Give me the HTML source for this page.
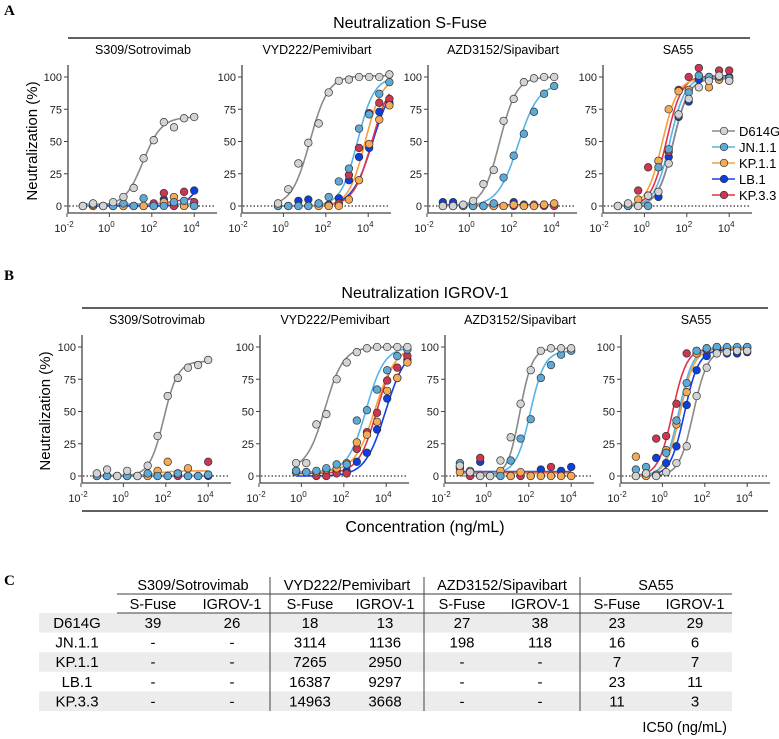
<!DOCTYPE html>
<html><head><meta charset="utf-8"><style>
html,body{margin:0;padding:0;background:#fff}
svg{display:block;font-family:"Liberation Sans",Arial,sans-serif}
.tbl{font-family:"Liberation Sans Narrow","Liberation Sans",sans-serif}
</style></head><body>
<svg id="fig" width="779" height="739" viewBox="0 0 779 739" xmlns="http://www.w3.org/2000/svg">
<text x="4" y="15" font-family="Liberation Serif,serif" font-weight="bold" font-size="15">A</text>
<text x="4" y="280" font-family="Liberation Serif,serif" font-weight="bold" font-size="15">B</text>
<text x="4" y="585" font-family="Liberation Serif,serif" font-weight="bold" font-size="15">C</text>
<text x="410" y="28" font-size="16" text-anchor="middle">Neutralization S-Fuse</text>
<line x1="68" y1="38" x2="750" y2="38" stroke="#000" stroke-width="1.2"/>
<text x="425" y="298" font-size="16" text-anchor="middle">Neutralization IGROV-1</text>
<line x1="82" y1="308" x2="768" y2="308" stroke="#000" stroke-width="1.2"/>
<line x1="82" y1="511" x2="768" y2="511" stroke="#000" stroke-width="1.2"/>
<text x="425" y="532" font-size="16" text-anchor="middle">Concentration (ng/mL)</text>
<text transform="translate(37,141) rotate(-90)" font-size="15" text-anchor="middle">Neutralization (%)</text>
<text transform="translate(50,411) rotate(-90)" font-size="15" text-anchor="middle">Neutralization (%)</text>
<g id="plots"></g>
<g id="legend"></g>
<g id="table" class="tbl"></g>
</svg>
<script>
const variants = ["D614G","JN.1.1","KP.1.1","LB.1","KP.3.3"];
const concLow = [0.056,0.17,0.51,1.5,4.6,14,41,123,370,1111,3333,10000];
const concHigh = [0.56,1.7,5.1,15,46,137,412,1235,3704,11111,33333,100000];
const subtitles = ["S309/Sotrovimab","VYD222/Pemivibart","AZD3152/Sipavibart","SA55"];
// values per plot: [D614G, JN.1.1, KP.1.1, LB.1, KP.3.3]
const a1 = [[0,2,0,3,7,14,37,51,65,61,68,69],[0,1,0,0,2,0,6,0,0,3,4,0],[0,0,0,0,0,0,0,0,3,7,0,0],[0,0,0,0,0,0,0,0,5,0,0,12],[0,0,0,0,0,0,0,2,10,0,11,3]];
const a2 = [[2,13,33,49,64,88,97,98,100,100,100,102],[0,0,0,0,2,7,19,29,60,71,87,96],[0,0,0,0,0,0,0,5,20,48,67,78],[0,0,4,5,2,1,6,20,38,45,73,80],[0,0,0,0,0,0,2,24,45,72,80,83]];
const a3 = [[0,0,1,4,17,28,66,83,96,99,100,100],[0,0,0,0,0,2,22,39,56,73,87,93],[0,0,0,0,0,0,0,1,0,0,1,2],[3,3,0,0,0,0,0,3,1,0,1,1],[0,0,0,0,0,0,0,0,0,1,0,0]];
const a4 = [[0,2,0,8,11,33,71,83,92,97,101,97],[0,0,0,0,30,44,70,88,101,100,100,99],[0,0,5,8,35,75,89,90,101,92,98,97],[0,0,0,0,7,38,69,81,98,100,98,100],[0,0,12,30,35,42,90,100,107,100,105,105]];
const b1 = [[2,5,0,4,0,8,31,62,76,84,86,90],[0,0,0,0,0,2,0,0,2,0,0,1],[0,0,0,0,0,0,4,11,2,6,0,1],[0,0,0,0,0,0,0,0,0,0,0,0],[0,0,0,0,0,0,0,0,0,0,0,11]];
const b2 = [[10,10,40,48,75,88,96,99,100,100,100,100],[4,3,4,6,9,9,43,51,67,82,93,98],[3,3,3,5,6,10,26,32,42,66,76,88],[3,3,0,0,4,4,11,18,36,60,76,90],[4,3,0,0,2,2,21,34,49,74,84,93]];
const b3 = [[8,3,0,0,12,30,56,82,97,99,99,99],[10,3,0,0,0,12,29,44,76,86,94,97],[3,4,0,0,4,0,3,0,0,0,0,0],[7,0,11,0,0,0,0,0,5,0,4,7],[6,0,14,0,0,0,0,0,0,7,0,0]];
const b4 = [[0,2,0,3,10,23,62,84,95,96,97,97],[5,7,1,18,43,72,97,99,100,100,100,100],[15,0,0,20,40,65,95,99,100,99,99,100],[0,2,14,10,23,55,82,93,98,95,95,96],[0,0,29,31,56,95,97,98,99,98,98,99]];
// fitted curve parameters [bottom, top, IC50 ng/mL, hill]
const fa1 = [[0,69,39,1],[1.5,1.5,1,1],[1.5,1.5,1,1],[0,20,10000,1.5],[1,6,1000,1]];
const fa2 = [[0,101,18,1],[0,100,3114,1.1],[0,100,7265,1.1],[0,100,16387,0.9],[0,100,14963,1]];
const fa3 = [[0,100,27,1.1],[0,95,198,0.9],[0.5,0.5,1,1],[1,1,1,1],[0.5,0.5,1,1]];
const fa4 = [[0,99,23,1.2],[0,100,16,1.2],[0,99,7,1.2],[0,99,23,1.2],[0,101,11,1.2]];
const fb1 = [[0,89,80,1.3],[0.5,0.5,1,1],[0,4,30,1],[0,0,1,1],[0.5,0.5,1,1]];
const fb2 = [[5,100,13,1],[3,100,1136,1],[3,100,2950,0.9],[0,100,9297,0.9],[2,100,3668,1]];
const fb3 = [[0,99,38,1.5],[2,97,118,1.3],[2,2,1,1],[3.5,3.5,1,1],[3,3,1,1]];
const fb4 = [[0,98,29,1.3],[0,100,6,1.3],[0,99,7,1.3],[0,98,11,1.3],[0,99,3,1.3]];
const tickLabelsX = ["-2","0","2","4"];
const tickValsY = [0,25,50,75,100];

const fillC = ["#d3d3d3","#5fa9d6","#f5aa55","#0a3fe0","#cc3650"];
const lineC = ["#8a8a8a","#58b4e6","#f4a040","#1040e8","#e0344c"];
const NS="http://www.w3.org/2000/svg";
function mk(tag,attrs,parent){const e=document.createElementNS(NS,tag);for(const k in attrs)e.setAttribute(k,attrs[k]);parent.appendChild(e);return e;}
const plots=document.getElementById('plots');
const panels=[
 {ax:[68,242,428,603],y0:206,subY:54,data:[a1,a2,a3,a4],fits:[fa1,fa2,fa3,fa4],conc:[concLow,concHigh,concLow,concLow],tag:'a'},
 {ax:[82,260,445,621],y0:476,subY:324,data:[b1,b2,b3,b4],fits:[fb1,fb2,fb3,fb4],conc:[concLow,concHigh,concLow,concLow],tag:'b'}
];
const DEC=21.2, YS=1.29;
panels.forEach(P=>{
 P.ax.forEach((axX,pi)=>{
  const g=mk('g',{},plots);
  
  
  const xs=l=>axX-1+(l+2)*DEC;
  const ys=v=>P.y0-v*YS;
  const st=mk('text',{x:axX+75,y:P.subY,'font-size':12.5,'text-anchor':'middle'},g);st.textContent=subtitles[pi];
  
  
  const xl=mk('line',{x1:axX,y1:P.y0+7,x2:axX+149,y2:P.y0+7,stroke:'#444','stroke-width':1.3},g);
  
  
  const yl=mk('line',{x1:axX,y1:P.y0-141,x2:axX,y2:P.y0+7,stroke:'#444','stroke-width':1.3},g);
  
  
  mk('line',{x1:axX+1,y1:P.y0,x2:axX+147,y2:P.y0,stroke:'#000','stroke-width':1,'stroke-dasharray':'1.5,2'},g);
  tickLabelsX.forEach(t=>{const L=+t;const x=xs(L);
   mk('line',{x1:x,y1:P.y0+7,x2:x,y2:P.y0+11,stroke:'#444'},g);
   const tx=mk('text',{x:x-3,y:P.y0+26,'font-size':11,'text-anchor':'middle',fill:'#222'},g);
   tx.textContent='10';const sp=mk('tspan',{dy:-5,'font-size':8},tx);sp.textContent=t;
   
   });
  tickValsY.forEach(v=>{const y=ys(v);
   mk('line',{x1:axX-4,y1:y,x2:axX,y2:y,stroke:'#444'},g);
   const tx=mk('text',{x:axX-6,y:y+4,'font-size':11,'text-anchor':'end',fill:'#222'},g);tx.textContent=v;
   
   });
  const conc=P.conc[pi], data=P.data[pi], fits=P.fits[pi];
  const lmin=Math.log10(conc[0]), lmax=Math.log10(conc[conc.length-1]);
  [3,4,2,1,0].forEach(si=>{
   const f=fits[si];let d='';
   for(let i=0;i<=80;i++){const l=lmin+(lmax-lmin)*i/80;
    const v=f[0]+(f[1]-f[0])/(1+Math.pow(10,(Math.log10(f[2])-l)*f[3]));
    d+=(i?'L':'M')+xs(l).toFixed(1)+','+ys(v).toFixed(1);}
   const c=mk('path',{d:d,fill:'none',stroke:lineC[si],'stroke-width':1.6},g);
   
   
  });
  [3,4,2,1,0].forEach(si=>{
   data[si].forEach((v,i)=>{
    const p=mk('circle',{cx:xs(Math.log10(conc[i])),cy:ys(v),r:3.8,fill:fillC[si],stroke:'#333','stroke-width':0.7},g);
    
    
   });
  });
 });
});
// legend
const lg=document.getElementById('legend');
variants.forEach((v,i)=>{const y=131+i*16;
 mk('line',{x1:712,y1:y,x2:735,y2:y,stroke:lineC[i],'stroke-width':1.6},lg);
 mk('circle',{cx:724,cy:y,r:3.8,fill:fillC[i],stroke:'#333','stroke-width':0.7},lg);
 const t=mk('text',{x:739,y:y+5,'font-size':13},lg);t.textContent=v;
 
 
});
// table
const tableRows=[["D614G","39","26","18","13","27","38","23","29"],["JN.1.1","-","-","3114","1136","198","118","16","6"],["KP.1.1","-","-","7265","2950","-","-","7","7"],["LB.1","-","-","16387","9297","-","-","23","11"],["KP.3.3","-","-","14963","3668","-","-","11","3"]];
const tb=document.getElementById('table');
const colX=[77,153,232,310,385,462,540,617,695];
const grpX=[193,347,502,656];
tableRows.forEach((r,i)=>{const top=613+i*19.6;
 if(i%2==0)mk('rect',{x:39,y:top,width:693,height:19.6,fill:'#ececec'},tb);
});
mk('line',{x1:117,y1:594,x2:732,y2:594,stroke:'#666','stroke-width':1.2},tb);
mk('line',{x1:117,y1:613,x2:732,y2:613,stroke:'#666','stroke-width':1.2},tb);
[270,424,580].forEach(x=>mk('line',{x1:x,y1:577,x2:x,y2:711,stroke:'#444','stroke-width':1},tb));
subtitles.forEach((s,i)=>{const t=mk('text',{x:grpX[i],y:590,'font-size':14.5,'text-anchor':'middle'},tb);t.textContent=s;
 
 });
for(let k=0;k<8;k++){const t=mk('text',{x:colX[k+1],y:609,'font-size':14.5,'text-anchor':'middle'},tb);t.textContent=k%2?'IGROV-1':'S-Fuse';
 
 }
tableRows.forEach((r,i)=>{const y=628+i*19.6;
 r.forEach((c,j)=>{const t=mk('text',{x:colX[j],y:y,'font-size':15,'text-anchor':'middle'},tb);t.textContent=c;
  
  });
});
const ic=mk('text',{x:727,y:732,'font-size':14.5,'text-anchor':'end'},tb);ic.textContent='IC50 (ng/mL)';


</script>
</body></html>
